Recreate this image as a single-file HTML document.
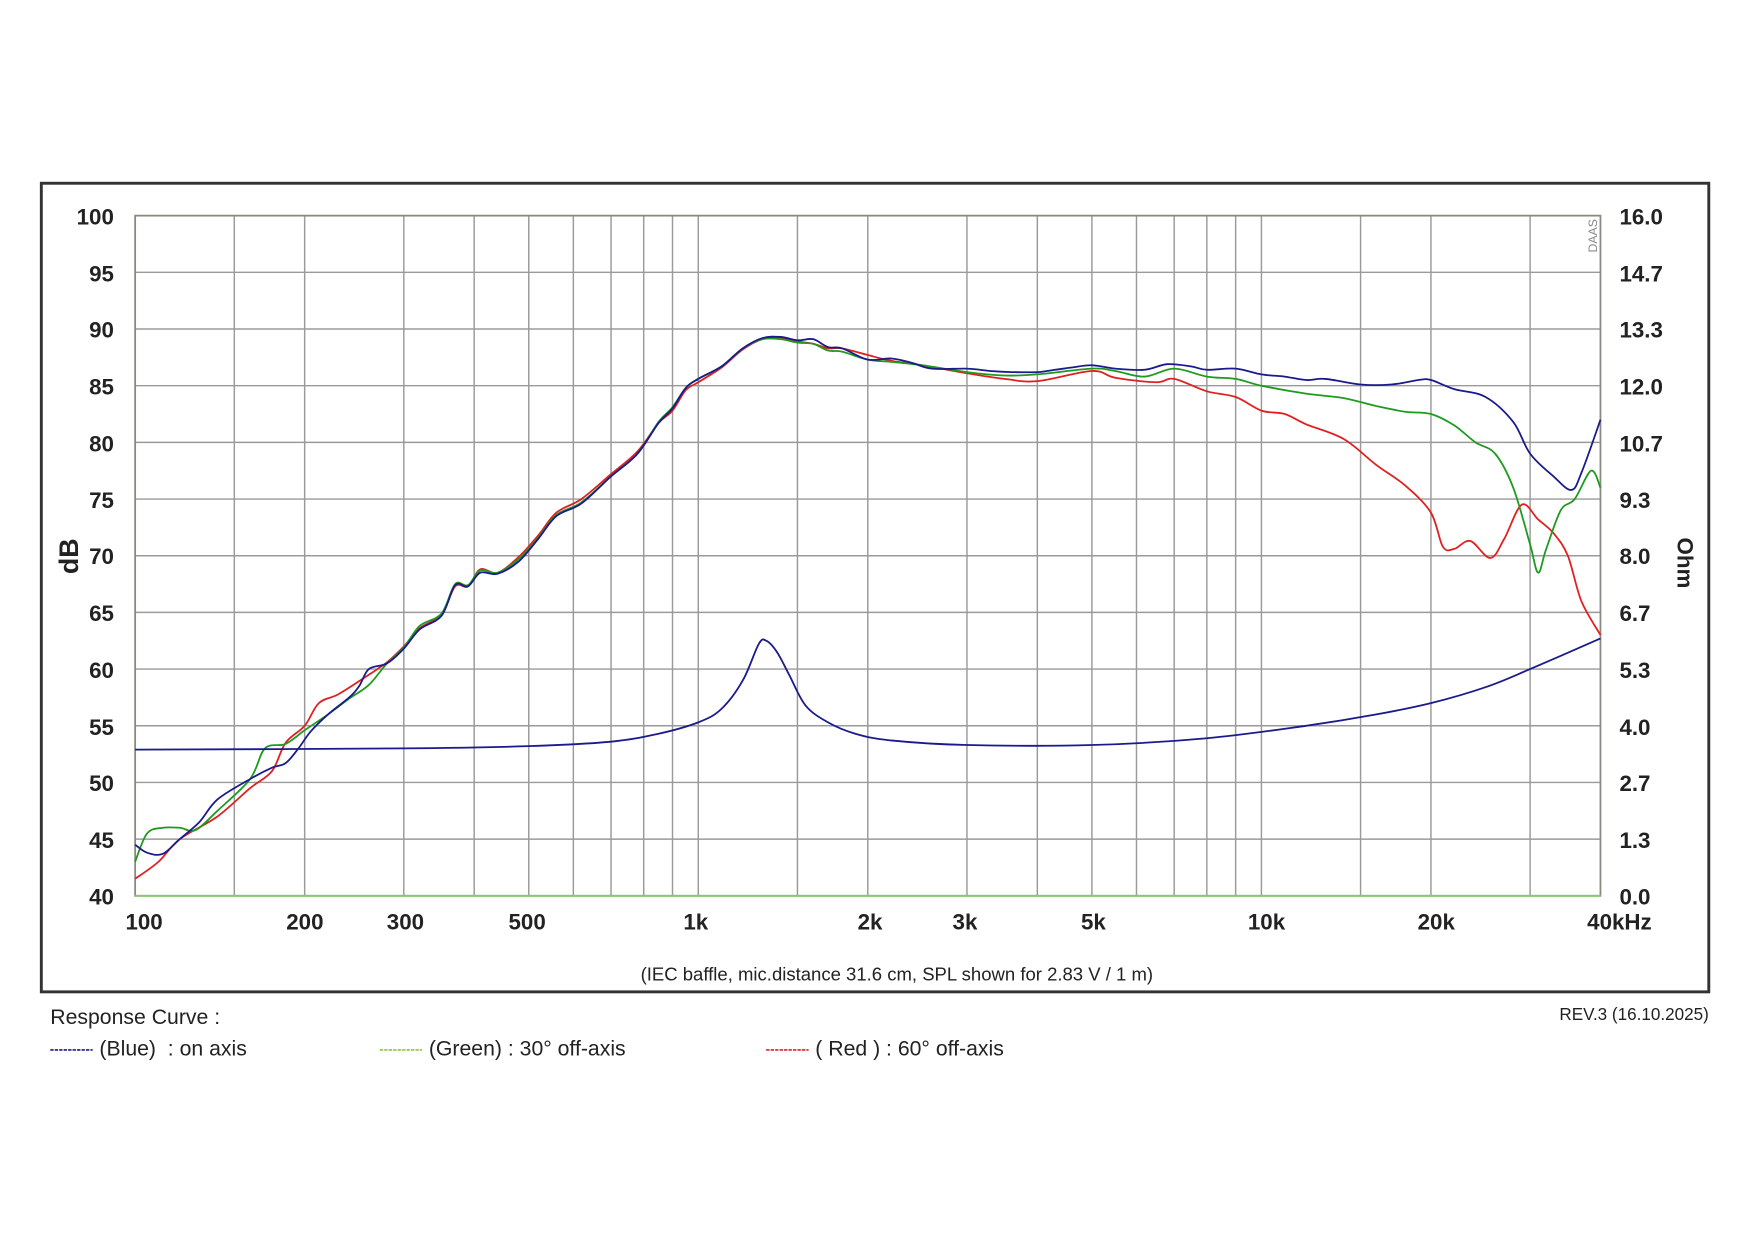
<!DOCTYPE html><html><head><meta charset="utf-8"><style>html,body{margin:0;background:#fff}svg{display:block}text{font-family:"Liberation Sans",Arial,sans-serif;fill:#222}</style></head><body>
<svg id="s" width="1749" height="1241" viewBox="0 0 1566 1111" xmlns="http://www.w3.org/2000/svg">
<rect x="37" y="164" width="1493" height="724" fill="#fff" stroke="#333" stroke-width="2.6"/>
<g id="grid" stroke="#9a9a9a" stroke-width="1.3"></g>
<rect x="121" y="193" width="1312" height="609" fill="none" stroke="#8a8a80" stroke-width="1.6"/>
<line x1="121" y1="802" x2="1433" y2="802" stroke="#7ccf6a" stroke-width="1.6"/>
<g font-size="20" font-weight="bold" text-anchor="end">
<text x="102" y="201">100</text><text x="102" y="252">95</text><text x="102" y="302">90</text><text x="102" y="353">85</text><text x="102" y="404">80</text><text x="102" y="455">75</text><text x="102" y="505">70</text><text x="102" y="556">65</text><text x="102" y="607">60</text><text x="102" y="658">55</text><text x="102" y="708">50</text><text x="102" y="759">45</text><text x="102" y="810">40</text></g>
<g font-size="20" font-weight="bold" text-anchor="start">
<text x="1450" y="201">16.0</text><text x="1450" y="252">14.7</text><text x="1450" y="302">13.3</text><text x="1450" y="353">12.0</text><text x="1450" y="404">10.7</text><text x="1450" y="455">9.3</text><text x="1450" y="505">8.0</text><text x="1450" y="556">6.7</text><text x="1450" y="607">5.3</text><text x="1450" y="658">4.0</text><text x="1450" y="708">2.7</text><text x="1450" y="759">1.3</text><text x="1450" y="810">0.0</text></g>
<g font-size="20" font-weight="bold" text-anchor="middle">
<text x="129" y="832">100</text><text x="273" y="832">200</text><text x="363" y="832">300</text><text x="472" y="832">500</text><text x="623" y="832">1k</text><text x="779" y="832">2k</text><text x="864" y="832">3k</text><text x="979" y="832">5k</text><text x="1134" y="832">10k</text><text x="1286" y="832">20k</text><text x="1450" y="832">40kHz</text></g>
<text font-size="24" font-weight="bold" transform="translate(70,498) rotate(-90)" text-anchor="middle">dB</text>
<text font-size="20" font-weight="bold" transform="translate(1502,504) rotate(90)" text-anchor="middle">Ohm</text>
<text font-size="11" transform="translate(1430,226) rotate(-90)" style="fill:#888">DAAS</text>
<text x="803" y="878" font-size="16.6" text-anchor="middle">(IEC baffle, mic.distance 31.6 cm, SPL shown for 2.83 V / 1 m)</text>
<text x="45" y="917" font-size="19">Response Curve :</text>
<text x="1530" y="913" font-size="15.3" text-anchor="end">REV.3 (16.10.2025)</text>
<line x1="45" y1="940" x2="83" y2="940" stroke="#1a1a8c" stroke-width="1.5" stroke-dasharray="3,1"/>
<text x="89" y="945" font-size="19" xml:space="preserve">(Blue)  : on axis</text>
<line x1="340" y1="940" x2="378" y2="940" stroke="#8cc83c" stroke-width="1.5" stroke-dasharray="3,1"/>
<text x="384" y="945" font-size="19">(Green) : 30° off-axis</text>
<line x1="686" y1="940" x2="724" y2="940" stroke="#e02020" stroke-width="1.5" stroke-dasharray="3,1"/>
<text x="730" y="945" font-size="19">( Red ) : 60° off-axis</text>
<g id="curves" fill="none" stroke-width="1.6"></g>
</svg>
<script>
const X=f=>121+1312*Math.log10(f/100)/Math.log10(400);
const Y=d=>802-(d-40)*609/60;
const g=document.getElementById('grid');let h='';
[150,200,300,400,500,600,700,800,900,1000,1500,2000,3000,4000,5000,6000,7000,8000,9000,10000,15000,20000,30000].forEach(f=>{h+=`<line x1="${X(f)}" y1="193" x2="${X(f)}" y2="802"/>`});
for(let d=45;d<100;d+=5)h+=`<line x1="121" y1="${Y(d)}" x2="1433" y2="${Y(d)}"/>`;
g.innerHTML=h;
const low={b:[[100,44.5],[105,43.8],[112,43.7],[120,45],[130,46.5],[140,48.5],[160,50.3],[175,51.3],[185,51.7],[195,53],[205,54.5],[220,56],[240,57.5],[250,58.5],[260,60],[280,60.5],[300,61.8],[320,63.5],[350,64.7],[370,67.4],[390,67.3],[410,68.5],[440,68.4],[480,69.5],[520,71.5],[560,73.5],[620,74.6],[700,77],[780,79],[850,81.7],[900,83],[950,84.8],[1000,85.6],[1100,86.7],[1200,88.3],[1300,89.2],[1400,89.3],[1500,89],[1600,89.1],[1700,88.4],[1800,88.3],[2000,87.3]],
g:[[100,43],[105,45.5],[112,46],[120,46],[128,45.8],[140,47.5],[160,50.3],[170,53],[185,53.4],[200,54.6],[220,56],[240,57.4],[260,58.6],[280,60.5],[300,61.9],[320,63.8],[350,64.9],[370,67.5],[390,67.4],[410,68.7],[440,68.5],[480,69.7],[520,71.6],[560,73.6],[620,74.7],[700,77],[780,79],[850,81.8],[900,83.1],[950,84.8],[1000,85.6],[1100,86.7],[1200,88.3],[1300,89.1],[1400,89.1],[1500,88.8],[1600,88.7],[1700,88.1],[1800,88],[2000,87.3]],
r:[[100,41.5],[110,43],[120,45],[140,47],[160,49.5],[175,51],[185,53.5],[200,55],[212,57],[230,57.8],[260,59.5],[280,60.6],[300,62],[320,63.6],[350,64.8],[370,67.3],[390,67.3],[410,68.8],[440,68.5],[480,69.9],[520,71.8],[560,73.8],[620,75],[700,77.2],[780,79.2],[850,81.7],[900,82.8],[950,84.6],[1000,85.3],[1100,86.6],[1200,88.2],[1300,89.1],[1400,89.2],[1500,88.9],[1600,88.7],[1700,88.3],[1800,88.3],[2000,87.7]]};
const hi={b:[[2200,87.4],[2400,87],[2600,86.5],[3000,86.5],[3300,86.3],[3600,86.2],[4000,86.2],[4300,86.4],[4600,86.6],[5000,86.8],[5500,86.5],[6200,86.4],[6800,86.9],[7500,86.7],[8000,86.4],[9000,86.5],[10000,86],[11000,85.8],[12000,85.5],[13000,85.6],[15000,85.1],[17000,85.1],[19000,85.5],[20000,85.5],[22000,84.7],[25000,84],[28000,81.8],[30000,79],[33000,77],[35500,75.8],[37000,77.3],[40000,82]],
g:[[2200,87.1],[2500,86.8],[3000,86.2],[3500,85.9],[4000,86],[5000,86.5],[5500,86.3],[6200,85.8],[7000,86.5],[8000,85.8],[9000,85.6],[10000,85],[12000,84.3],[14000,83.9],[16000,83.2],[18000,82.7],[20000,82.5],[22000,81.5],[24000,80],[26000,79],[28000,76],[30000,71],[31000,68.5],[32000,70.5],[34000,74],[36000,75],[38500,77.5],[40000,76]],
r:[[2200,87.2],[2500,86.8],[3000,86.1],[3500,85.6],[4000,85.4],[5000,86.3],[5500,85.7],[6500,85.3],[7000,85.6],[8000,84.5],[9000,84],[10000,82.8],[11000,82.5],[12000,81.6],[14000,80.3],[16000,78],[18000,76.2],[20000,73.8],[21000,70.8],[22000,70.6],[23500,71.3],[25500,69.8],[27000,71.5],[29000,74.5],[31000,73.2],[33000,72],[35000,70],[37000,66],[40000,63]]};
const imp=[[100,52.9],[300,53],[500,53.2],[700,53.6],[850,54.3],[1000,55.3],[1100,56.5],[1200,59],[1280,62.2],[1320,62.5],[1380,61.5],[1450,59.5],[1550,56.8],[1700,55.3],[1900,54.3],[2200,53.7],[3000,53.3],[5000,53.3],[8000,53.9],[12000,55],[16000,56],[20000,57],[25000,58.4],[30000,60],[40000,62.7]];
function path(p,c){const P=p.map(q=>[X(q[0]),Y(q[1])]);let s='M'+P[0][0].toFixed(1)+','+P[0][1].toFixed(1);
for(let i=0;i<P.length-1;i++){const p0=P[Math.max(0,i-1)],p1=P[i],p2=P[i+1],p3=P[Math.min(P.length-1,i+2)];const t=1/6;
s+=`C${(p1[0]+(p2[0]-p0[0])*t).toFixed(1)},${(p1[1]+(p2[1]-p0[1])*t).toFixed(1)} ${(p2[0]-(p3[0]-p1[0])*t).toFixed(1)},${(p2[1]-(p3[1]-p1[1])*t).toFixed(1)} ${p2[0].toFixed(1)},${p2[1].toFixed(1)}`}
return `<path d="${s}" stroke="${c}" stroke-linejoin="round"/>`}
document.getElementById('curves').innerHTML=path(low.r.concat(hi.r),'#e02020')+path(low.g.concat(hi.g),'#1e9a1e')+path(low.b.concat(hi.b),'#1a1a8c')+path(imp,'#1a1a8c');
</script></body></html>
